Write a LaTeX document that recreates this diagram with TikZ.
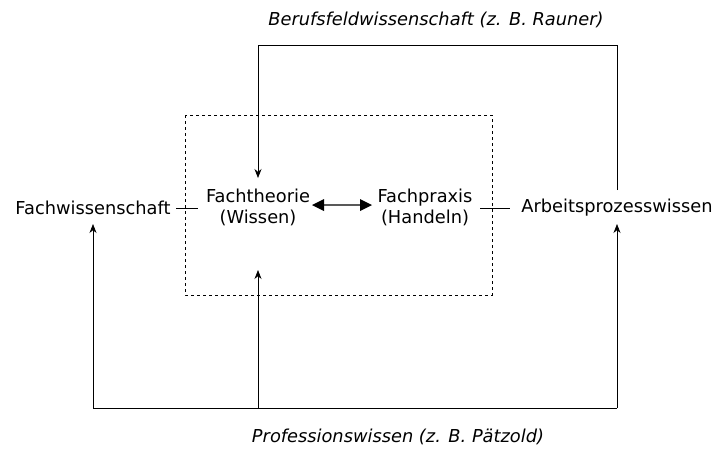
\documentclass[tikz,border=0pt]{standalone}
\usepackage{fontspec}
\setmainfont{DejaVu Sans}
\usetikzlibrary{arrows.meta}
\begin{document}
\begin{tikzpicture}[x=1pt, y=-1pt, font=\fontsize{17.8}{21}\selectfont,
	lbl/.style = {align=center, inner sep=2pt},
	link/.style = {-{Stealth[length=9pt,width=7pt]}, line width=0.7pt}]
	
	\useasboundingbox (0,0) rectangle (720,459);
	
	\draw[dashed, line width=0.7pt] (185,115) rectangle (492,295);
	
	\node[lbl] at (93, 208) (FW) {Fachwissenschaft};
	\node[lbl] at (258, 207) (FT) {Fachtheorie\\(Wissen)};
	\node[lbl] at (425, 207) (FP) {Fachpraxis\\(Handeln)};
	\node[lbl] at (617, 208) (AW) {Arbeitsprozesswissen};
	
	\node[font=\fontsize{17.8}{21}\selectfont\itshape] at (436, 20) (BW) {Berufsfeldwissenschaft (z. B. Rauner)};
	\node[font=\fontsize{17.8}{21}\selectfont\itshape] at (398, 437) (PW) {Professionswissen (z. B. Pätzold)};
	
	\coordinate (tl) at (176, 208);
	\coordinate (tr) at (198, 208);
	\coordinate (ul) at (480, 208);
	\coordinate (ur) at (510, 208);
	\draw[line width=0.6pt] (tl) -- (tr);
	\draw[line width=0.6pt] (ul) -- (ur);
	
	\draw[line width=2.4pt, gray!70!black] (320,205) -- (364,205);
	\fill (312,205) -- (324,199) -- (324,211) -- cycle;
	\fill (372,205) -- (360,199) -- (360,211) -- cycle;
	
	% Berufsfeld
	\draw[link] (617,190) -- (617,45) -- (258,45) -- (258,178);
	
	% Profession
	\draw[line width=0.7pt] (93,408) -- (617,408);
	\draw[link] (93,408) -- (93,224);
	\draw[link] (617,408) -- (617,224);
	\draw[link] (258,408) -- (258,270);
	
\end{tikzpicture}
\end{document}
